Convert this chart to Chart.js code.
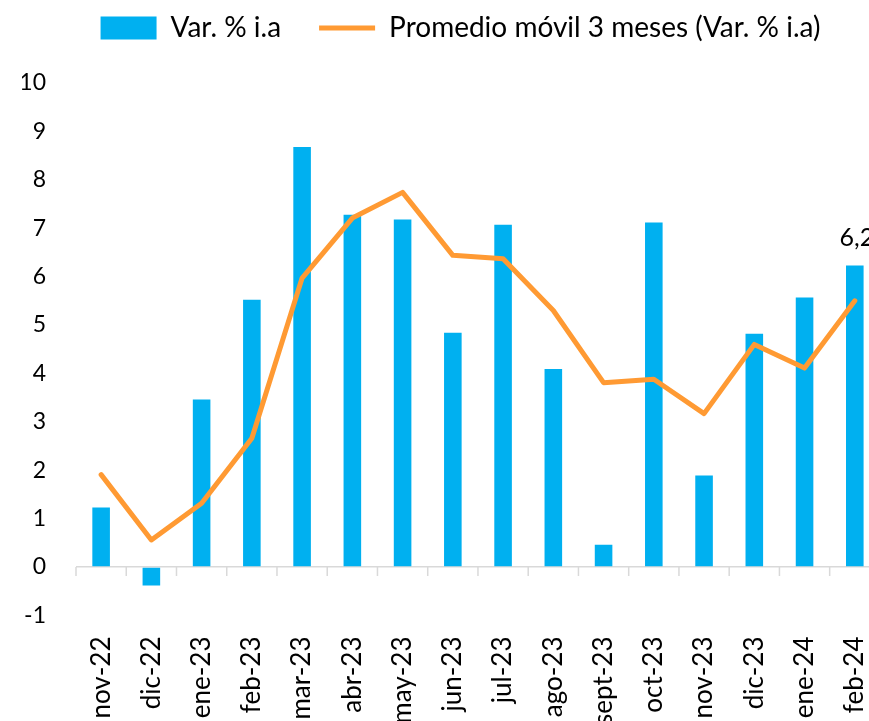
<!DOCTYPE html>
<html>
<head>
    <title>Var. % i.a</title>
    <script src="https://cdn.jsdelivr.net/npm/chart.js"></script>
    <style>
        html, body { margin: 0; padding: 0; overflow: hidden; background: #fff; }
        #wrap { width: 899px; height: 738px; }
    </style>
</head>
<body>
    <div id="wrap"><canvas id="chart"></canvas></div>

    <script>
        const labels = ['nov-22', 'dic-22', 'ene-23', 'feb-23', 'mar-23', 'abr-23', 'may-23', 'jun-23',
                        'jul-23', 'ago-23', 'sept-23', 'oct-23', 'nov-23', 'dic-23', 'ene-24', 'feb-24'];
        const varIA = [1.23, -0.38, 3.46, 5.52, 8.68, 7.28, 7.18, 4.84, 7.07, 4.09, 0.46, 7.12, 1.89, 4.82, 5.57, 6.23];
        const promedio3m = [1.91, 0.56, 1.32, 2.66, 5.97, 7.21, 7.74, 6.44, 6.37, 5.30, 3.81, 3.88, 3.17, 4.60, 4.11, 5.50];

        const FONT = 'Lato, "Open Sans", sans-serif';
        Chart.defaults.font.family = FONT;
        Chart.defaults.color = '#000';

        // extra room under the legend
        const legendGap = {
            id: 'legendGap',
            beforeInit(chart) {
                const fit = chart.legend.fit;
                chart.legend.fit = function () {
                    fit.bind(chart.legend)();
                    this.height += 31;
                };
            }
        };

        // small tick marks hanging from the zero line
        const zeroTicks = {
            id: 'zeroTicks',
            beforeDatasetsDraw(chart) {
                const { ctx, scales: { x, y } } = chart;
                const y0 = y.getPixelForValue(0);
                ctx.save();
                ctx.strokeStyle = '#d9d9d9';
                ctx.lineWidth = 1.5;
                ctx.beginPath();
                for (let i = 0; i <= labels.length; i++) {
                    const px = x.getPixelForValue(i - 0.5);
                    ctx.moveTo(px, y0);
                    ctx.lineTo(px, y0 + 9);
                }
                ctx.stroke();
                ctx.restore();
            }
        };

        // value label on the last bar
        const lastLabel = {
            id: 'lastLabel',
            afterDatasetsDraw(chart) {
                const { ctx } = chart;
                const i = varIA.length - 1;
                const bar = chart.getDatasetMeta(0).data[i];
                ctx.save();
                ctx.font = '25px ' + FONT;
                ctx.fillStyle = '#000';
                ctx.textAlign = 'center';
                ctx.textBaseline = 'middle';
                ctx.fillText(varIA[i].toFixed(1).replace('.', ','), bar.x + 2, bar.y - 28);
                ctx.restore();
            }
        };

        new Chart(document.getElementById('chart'), {
            data: {
                labels: labels,
                datasets: [
                    {
                        type: 'bar',
                        label: 'Var. % i.a',
                        data: varIA,
                        backgroundColor: '#00B0F0',
                        barPercentage: 0.35,
                        categoryPercentage: 1,
                        order: 1
                    },
                    {
                        type: 'line',
                        label: 'Promedio móvil 3 meses (Var. % i.a)',
                        data: promedio3m,
                        borderColor: '#FF9A33',
                        borderWidth: 5,
                        pointRadius: 0,
                        tension: 0,
                        borderJoinStyle: 'round',
                        borderCapStyle: 'round',
                        order: 0
                    }
                ]
            },
            options: {
                responsive: true,
                maintainAspectRatio: false,
                animation: false,
                layout: { padding: { top: -24, left: 22, right: 0, bottom: 0 } },
                plugins: {
                    tooltip: { enabled: false },
                    legend: {
                        position: 'top',
                        labels: {
                            font: { size: 28 },
                            color: '#000',
                            usePointStyle: true,
                            pointStyleWidth: 56,
                            boxWidth: 56,
                            boxHeight: 23,
                            padding: 38,
                            generateLabels(chart) {
                                return chart.data.datasets.map((ds, i) => ({
                                    text: ds.label,
                                    datasetIndex: i,
                                    fillStyle: ds.type === 'line' ? ds.borderColor : ds.backgroundColor,
                                    strokeStyle: ds.type === 'line' ? ds.borderColor : ds.backgroundColor,
                                    lineWidth: ds.type === 'line' ? 5 : 0,
                                    pointStyle: ds.type === 'line' ? 'line' : 'rect',
                                    fontColor: '#000',
                                    hidden: false
                                }));
                            }
                        }
                    }
                },
                scales: {
                    x: {
                        grid: { display: false },
                        border: { display: false },
                        ticks: {
                            font: { size: 26 },
                            color: '#000',
                            minRotation: 90,
                            maxRotation: 90,
                            autoSkip: false,
                            padding: 13
                        }
                    },
                    y: {
                        min: -1,
                        max: 10,
                        border: { display: false },
                        afterFit(scale) { scale.width = 54; },
                        grid: {
                            drawTicks: false,
                            lineWidth: 1.5,
                            color: ctx => ctx.tick && ctx.tick.value === 0 ? '#d9d9d9' : 'rgba(0,0,0,0)'
                        },
                        ticks: {
                            stepSize: 1,
                            font: { size: 23 },
                            color: '#000',
                            padding: 30
                        }
                    }
                }
            },
            plugins: [legendGap, zeroTicks, lastLabel]
        });
    </script>
</body>
</html>
